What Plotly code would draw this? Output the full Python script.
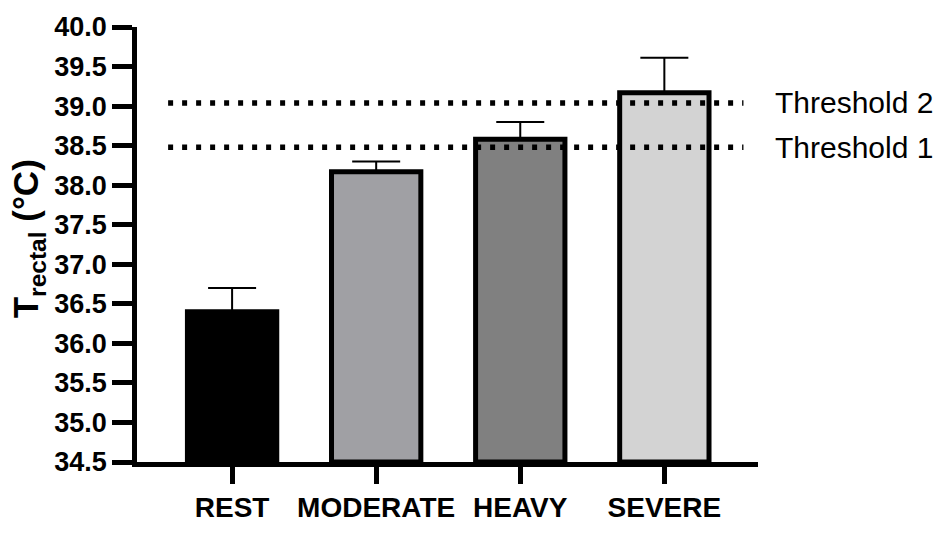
import plotly.graph_objects as go

categories = ["REST", "MODERATE", "HEAVY", "SEVERE"]
means = [36.4, 38.17, 38.58, 39.17]
errors_up = [0.3, 0.13, 0.22, 0.44]
bar_colors = ["#000000", "#a0a0a4", "#808080", "#d3d3d3"]
thresholds = [39.04, 38.48]
threshold_labels = ["Threshold 2", "Threshold 1"]
y_ticks = [34.5, 35.0, 35.5, 36.0, 36.5, 37.0, 37.5, 38.0, 38.5, 39.0, 39.5, 40.0]
y_title = "<b>T<sub>rectal</sub> (°C)</b>"

FONT = "Liberation Sans, Arial, sans-serif"
xpos = list(range(len(categories)))

fig = go.Figure()
fig.add_trace(go.Bar(
    x=xpos, y=[m - y_ticks[0] for m in means], base=y_ticks[0],
    width=0.62,
    marker=dict(color=bar_colors, line=dict(color="black", width=5)),
    error_y=dict(type="data", array=errors_up, arrayminus=[0] * len(means),
                 symmetric=False, color="black", thickness=2, width=24),
    showlegend=False, hoverinfo="skip",
))

line_x = [-0.444, 3.549]
for t, lab in zip(thresholds, threshold_labels):
    fig.add_trace(go.Scatter(
        x=line_x, y=[t, t], mode="lines",
        line=dict(color="black", width=5.5, dash="5px,9px"),
        showlegend=False, hoverinfo="skip", cliponaxis=False,
    ))
    fig.add_annotation(x=1.024, y=t, xref="paper", yref="y", text=lab,
                       showarrow=False, xanchor="left", yanchor="middle",
                       font=dict(family=FONT, size=30, color="black"))

# y-axis title as a rotated annotation
fig.add_annotation(x=-0.175, y=37.32, xref="paper", yref="y", text=y_title,
                   textangle=-90, showarrow=False, xanchor="center", yanchor="middle",
                   font=dict(family=FONT, size=35, color="black"))

fig.update_xaxes(
    range=[-0.66, 3.65], tickvals=xpos, ticktext=[f"<b>{c}</b>" for c in categories],
    showline=True, linecolor="black", linewidth=4.5,
    ticks="outside", ticklen=17, tickwidth=4.5, tickcolor="black",
    showgrid=False, zeroline=False,
    tickfont=dict(family=FONT, size=28, color="black"),
)
fig.update_yaxes(
    range=[y_ticks[0], y_ticks[-1]], tickvals=y_ticks,
    ticktext=[f"<b>{v:.1f}</b>" for v in y_ticks],
    showline=True, linecolor="black", linewidth=4.5,
    ticks="outside", ticklen=20, tickwidth=4.5, tickcolor="black",
    showgrid=False, zeroline=False,
    tickfont=dict(family=FONT, size=27, color="black"),
)
fig.update_layout(
    width=940, height=535,
    margin=dict(l=137, r=182, t=23, b=49),
    plot_bgcolor="white", paper_bgcolor="white",
    bargap=0.38,
)
fig.write_html("out.html")
